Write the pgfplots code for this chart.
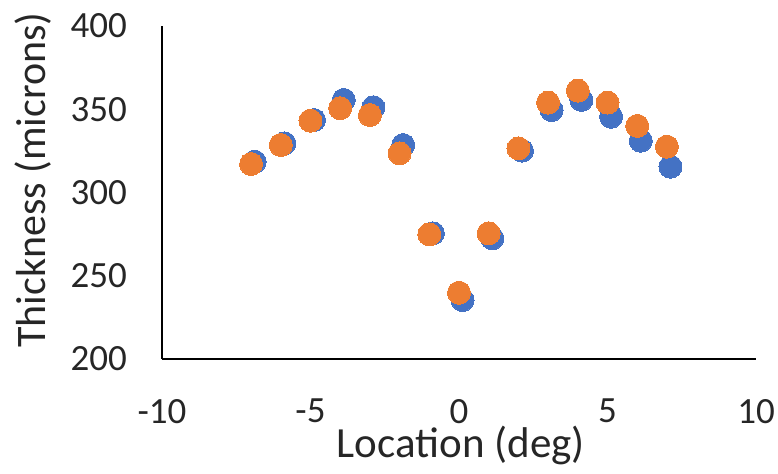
\documentclass[border=0pt]{standalone}
\usepackage{pgfplots}
\pgfplotsset{compat=1.18}
\usepackage{fontspec}
\setmainfont{Carlito}
\definecolor{xlblue}{HTML}{4472C4}
\definecolor{xlorange}{HTML}{ED7D31}
\begin{document}
\begin{tikzpicture}
\begin{axis}[
  scale only axis, width=594pt, height=333pt,
  xmin=-10, xmax=10, ymin=200, ymax=400,
  xtick={-10,-5,0,5,10}, xticklabels={-10,-5,0,5,10},
  ytick={200,250,300,350,400}, yticklabels={200,250,300,350,400},
  axis x line=bottom, axis y line=left,
  axis line style={-, line width=2.5pt, black},
  major tick length=0pt,
  /pgf/number format/assume math mode=true,
  ticklabel style={font=\fontsize{37}{44}\selectfont, text=black!85},
  yticklabel style={anchor=east, inner sep=0pt, xshift=-35pt},
  xticklabel style={anchor=north, inner sep=0pt, yshift=-40pt},
  xlabel={Location (deg)},
  ylabel={Thickness (microns)},
  xlabel style={font=\fontsize{43}{50}\selectfont, text=black!85, at={(rel axis cs:0.503,-0.296)}, anchor=base, inner sep=0pt},
  ylabel style={font=\fontsize{42}{50}\selectfont, text=black!85, at={(rel axis cs:-0.2475,0.537)}, anchor=north, rotate=0, inner sep=0pt},
  clip=false,
]
\addplot[only marks, mark=*, color=xlblue, mark size=11.5pt, mark options={draw=xlblue, fill=xlblue, line width=0pt}] coordinates {
(-6.88,318.5) (-5.88,329.5) (-4.88,343.5) (-3.88,355.6) (-2.88,351.2)
(-1.88,328.5) (-0.88,275.5) (0.12,235.4) (1.12,272.5) (2.12,325.1)
(3.12,349.5) (4.12,355.6) (5.12,345.5) (6.12,331.1) (7.12,315.5)
};
\addplot[only marks, mark=*, color=xlorange, mark size=11.5pt, mark options={draw=xlorange, fill=xlorange, line width=0pt}] coordinates {
(-7,317.1) (-6,328.5) (-5,343.1) (-4,350.6) (-3,346.5)
(-2,323.5) (-1,274.9) (0,239.8) (1,275.5) (2,326.5)
(3,354.0) (4,361.2) (5,354.0) (6,340.0) (7,327.5)
};
\coordinate (bbl) at (rel axis cs:-0.2727,-0.3453);
\coordinate (btr) at (rel axis cs:1.037,1.078);
\end{axis}
\pgfresetboundingbox
\path (bbl) rectangle (btr);
\end{tikzpicture}
\end{document}
